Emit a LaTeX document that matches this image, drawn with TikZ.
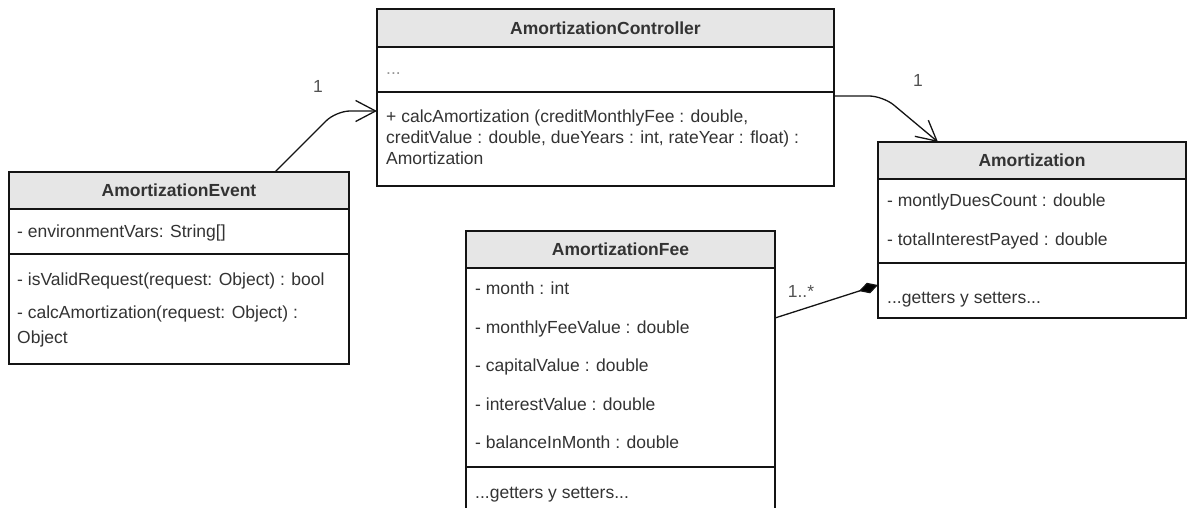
\documentclass[tikz,border=0pt]{standalone}
\usepackage{fontspec}
\setmainfont{Liberation Sans}
\usetikzlibrary{arrows.meta}

\definecolor{hdrfill}{RGB}{230,230,230}
\definecolor{txtgray}{RGB}{51,51,51}
\definecolor{dotgray}{RGB}{150,150,150}
\definecolor{edgegray}{RGB}{20,20,20}

\tikzset{
  umlpart/.style={draw=edgegray, line width=1.3pt, rectangle, inner sep=0pt, outer sep=0pt, anchor=north west},
  hdr/.style={umlpart, fill=hdrfill, font=\fontsize{17.5}{21}\selectfont\bfseries, text=txtgray},
  comp/.style={umlpart, fill=white},
  member/.style={anchor=base west, inner sep=0pt, font=\fontsize{17.5}{21}\selectfont, text=txtgray},
  mult/.style={inner sep=0pt, font=\fontsize{17.5}{21}\selectfont, text=txtgray!85},
  assoc/.style={draw=edgegray, line width=1.3pt, rounded corners=14pt,
    -{Straight Barb[length=20pt, width=21pt, line width=1.3pt]}},
  compo/.style={draw=edgegray, line width=1.3pt,
    {Diamond[length=20pt, width=11pt, fill=black]}-},
}

\begin{document}
\begin{tikzpicture}[x=1pt, y=-1pt]
\useasboundingbox (0,0) rectangle (1187,508);
\clip (0,0) rectangle (1187,508);

% ---------- AmortizationController ----------
\node[hdr, minimum width=457pt, minimum height=38pt] (ctrlHead) at (377,9) {AmortizationController};
\node[comp, minimum width=457pt, minimum height=45pt] (ctrlAttr) at (ctrlHead.south west) {};
\node[comp, minimum width=457pt, minimum height=94pt] (ctrlOps) at (ctrlAttr.south west) {};
\node[member, text=dotgray] (ctrlA1) at (386,75) {...};
\node[member] (ctrlO1) at (386,123) {+ calcAmortization (creditMonthlyFee : double,};
\node[member] (ctrlO2) at (386,144) {creditValue : double, dueYears : int, rateYear : float) :};
\node[member] (ctrlO3) at (386,165) {Amortization};

% ---------- AmortizationEvent ----------
\node[hdr, minimum width=340pt, minimum height=37pt] (evHead) at (9,172) {AmortizationEvent};
\node[comp, minimum width=340pt, minimum height=45pt] (evAttr) at (evHead.south west) {};
\node[comp, minimum width=340pt, minimum height=110pt] (evOps) at (evAttr.south west) {};
\node[member] (evA1) at (17,237) {- environmentVars: String[]};
\node[member] (evO1) at (17,285) {- isValidRequest(request: Object) : bool};
\node[member] (evO2) at (17,318) {- calcAmortization(request: Object) :};
\node[member] (evO3) at (17,343) {Object};

% ---------- AmortizationFee ----------
\node[hdr, minimum width=309pt, minimum height=37pt] (feeHead) at (466,231) {AmortizationFee};
\node[comp, minimum width=309pt, minimum height=199pt] (feeAttr) at (feeHead.south west) {};
\node[comp, minimum width=309pt, minimum height=70pt] (feeOps) at (feeAttr.south west) {};
\node[member] (feeA1) at (475,294) {- month : int};
\node[member] (feeA2) at (475,333) {- monthlyFeeValue : double};
\node[member] (feeA3) at (475,371) {- capitalValue : double};
\node[member] (feeA4) at (475,410) {- interestValue : double};
\node[member] (feeA5) at (475,448) {- balanceInMonth : double};
\node[member] (feeO1) at (475,498) {...getters y setters...};

% ---------- Amortization ----------
\node[hdr, minimum width=308pt, minimum height=37pt] (amHead) at (878,142) {Amortization};
\node[comp, minimum width=308pt, minimum height=84pt] (amAttr) at (amHead.south west) {};
\node[comp, minimum width=308pt, minimum height=55pt] (amOps) at (amAttr.south west) {};
\node[member] (amA1) at (887,207) {- montlyDuesCount : double};
\node[member] (amA2) at (887,245) {- totalInterestPayed : double};
\node[member] (amO1) at (887,303) {...getters y setters...};

% ---------- relations ----------
\draw[assoc] ([xshift=266pt]evHead.north west) -- ++(61,-61) -- ([yshift=-19pt]ctrlOps.north west);
\node[mult] (mEvCtrl) at (318,86) {1};

\draw[assoc] ([yshift=-4pt]ctrlOps.north east) -- ++(49,0) -- ([xshift=60pt]amHead.north west);
\node[mult] (mCtrlAm) at (918,80) {1};

\draw[compo] ([yshift=-22pt]amOps.north west) -- ([yshift=-50pt]feeAttr.north east);
\node[mult] (mFee) at (801,291) {1..*};
\end{tikzpicture}
\end{document}
